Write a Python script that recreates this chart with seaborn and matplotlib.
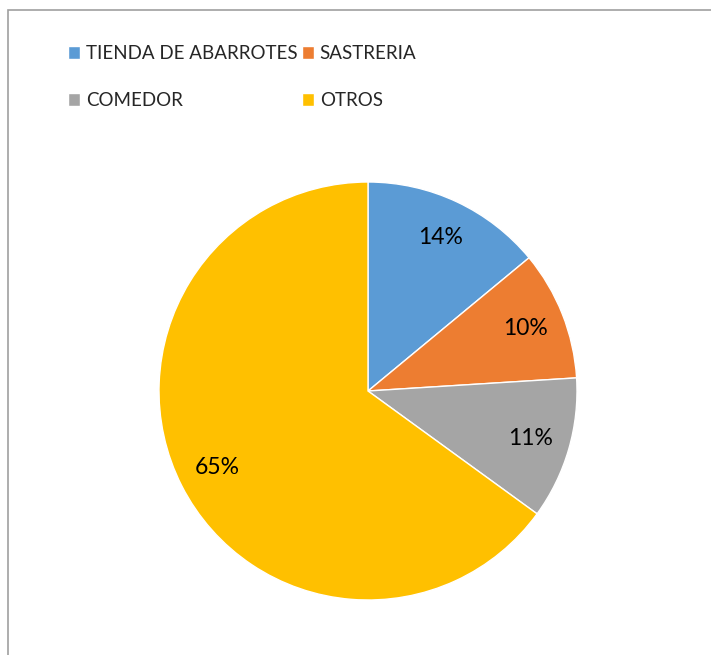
import matplotlib
matplotlib.use('Agg')
import matplotlib.pyplot as plt
from matplotlib.patches import Rectangle
import seaborn as sns

categories = ['TIENDA DE ABARROTES', 'SASTRERIA', 'COMEDOR', 'OTROS']
shares = [14, 10, 11, 65]
colors = sns.color_palette(['#5B9BD5', '#ED7D31', '#A5A5A5', '#FFC000'])

sns.set_theme(style='white')
plt.rcParams['font.family'] = ['Lato', 'DejaVu Sans']

W, H = 711, 655
fig = plt.figure(figsize=(W / 100, H / 100), dpi=100)
fig.patch.set_facecolor('white')

# chart border (only left/top edges visible in the crop)
fig.add_artist(Rectangle((8 / W, -0.1), 1.2, 1 - 10 / H + 0.1,
                         transform=fig.transFigure, fill=False,
                         edgecolor='#a0a0a0', linewidth=1.2))

cx, cy, r = 368, 391, 209
ax = fig.add_axes([(cx - r) / W, (H - cy - r) / H, 2 * r / W, 2 * r / H])
wedges, _, autotexts = ax.pie(shares, colors=colors, startangle=90, counterclock=False,
                              autopct='%1.0f%%', pctdistance=0.81, radius=1,
                              wedgeprops={'edgecolor': 'white', 'linewidth': 1},
                              textprops={'fontsize': 16.5, 'color': 'black'})
for w in wedges:
    w.set_clip_on(False)
ax.set_xlim(-1, 1)
ax.set_ylim(-1, 1)
ax.set_aspect('equal')

# legend: two rows, order row-wise
order = [0, 2, 1, 3]
leg = fig.legend([wedges[i] for i in order], [categories[i] for i in order],
                 ncol=2, loc='upper left', bbox_to_anchor=(51 / W, 1 - 28 / H),
                 frameon=False, fontsize=13.5, handlelength=0.65, handleheight=0.65,
                 handletextpad=0.3, columnspacing=0.25, labelspacing=1.6)

fig.savefig('out.png', dpi=100)
